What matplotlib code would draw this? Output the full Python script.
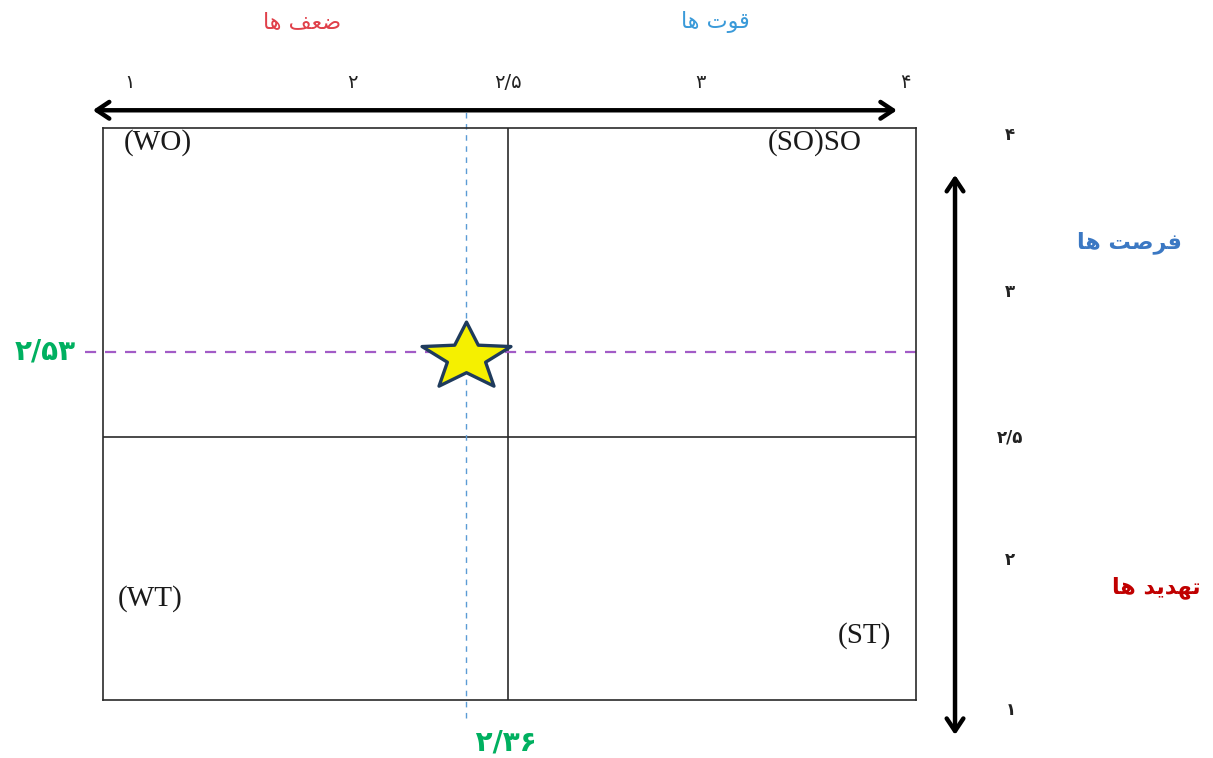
"""SWOT position matrix (internal / external factor evaluation)."""

import numpy as np
import matplotlib.pyplot as plt
from matplotlib.path import Path
from matplotlib.transforms import blended_transform_factory

# ---- data -------------------------------------------------------------
# internal factors (x): weakness <- -> strength ; external factors (y)
x_ticks = [1, 2, 2.5, 3, 4]
x_tick_labels = ["۱", "۲", "۲/۵", "۳", "۴"]
y_ticks = [1, 2, 2.5, 3, 4]
y_tick_labels = ["۱", "۲", "۲/۵", "۳", "۴"]
split_value = 2.5
ife_score = 2.36
efe_score = 2.53
ife_label = "۲/۳۶"
efe_label = "۲/۵۳"

# Persian labels written in visual order with Arabic presentation forms
# (matplotlib has no text shaping)
label_weak = "\uFE8E\uFEEB \uFED2\uFECC\uFEBF"            # ضعف ها
label_strong = "\uFE8E\uFEEB \uFE95\uFEEE\uFED7"          # قوت ها
label_opp = "\uFE8E\uFEEB \uFE96\uFEBB\uFEAE\uFED3"       # فرصت ها
label_threat = "\uFE8E\uFEEB \uFEAA\uFEF3\uFEAA\uFEEC\uFE97"  # تهدید ها
quadrants = ["(WO)", "(SO)SO", "(WT)", "(ST)"]

# ---- hand-drawn axis layout of the diagram (value -> canvas pixel) ----
W, H = 1213, 758
X_GUIDE_VAL = [1, 2, 2.36, 2.5, 3, 4]
X_GUIDE_PX = [130, 352, 466, 508, 700, 905]
Y_GUIDE_VAL = [1, 2, 2.5, 2.53, 3, 4]
Y_GUIDE_PX = [48, 198, 321, 406, 466, 623]   # measured from the bottom
BOX = (103, 58, 916, 630)                    # left, bottom, right, top


def piecewise(xp, fp):
    xp = np.asarray(xp, float)
    fp = np.asarray(fp, float)
    lo = (fp[1] - fp[0]) / (xp[1] - xp[0])
    hi = (fp[-1] - fp[-2]) / (xp[-1] - xp[-2])

    def f(v):
        v = np.asarray(v, float)
        out = np.interp(v, xp, fp)
        out = np.where(v < xp[0], fp[0] + (v - xp[0]) * lo, out)
        out = np.where(v > xp[-1], fp[-1] + (v - xp[-1]) * hi, out)
        return out
    return f


x_fwd, x_inv = piecewise(X_GUIDE_VAL, X_GUIDE_PX), piecewise(X_GUIDE_PX, X_GUIDE_VAL)
y_fwd, y_inv = piecewise(Y_GUIDE_VAL, Y_GUIDE_PX), piecewise(Y_GUIDE_PX, Y_GUIDE_VAL)


def star_marker(stretch=1.32, inner=0.43):
    verts = []
    for k in range(5):
        a = np.pi / 2 + k * 2 * np.pi / 5
        verts.append((stretch * np.cos(a), np.sin(a)))
        b = a + np.pi / 5
        verts.append((stretch * inner * np.cos(b), inner * np.sin(b)))
    verts.append(verts[0])
    codes = [Path.MOVETO] + [Path.LINETO] * 9 + [Path.CLOSEPOLY]
    return Path(verts, codes)


fig = plt.figure(figsize=(W / 100, H / 100), dpi=100)
left, bottom, right, top = BOX
ax = fig.add_axes([left / W, bottom / H, (right - left) / W, (top - bottom) / H])
ax.set_xscale("function", functions=(x_fwd, x_inv))
ax.set_yscale("function", functions=(y_fwd, y_inv))
ax.set_xlim(float(x_inv(left)), float(x_inv(right)))
ax.set_ylim(float(y_inv(bottom)), float(y_inv(top)))
ax.set_xticks([])
ax.set_yticks([])
for sp in ax.spines.values():
    sp.set_color("#2a2a2a")
    sp.set_linewidth(1.2)

# quadrant split lines
ax.axvline(split_value, color="#2a2a2a", lw=1.2)
ax.axhline(split_value, color="#2a2a2a", lw=1.2)

# score guide lines
ax.axvline(ife_score, ymin=-0.031, ymax=1.031, color="#5B9BD5", lw=1.0,
           dashes=(4, 4), clip_on=False)
ax.axhline(efe_score, xmin=-0.022, xmax=1.0, color="#A25BC6", lw=1.6,
           dashes=(5, 4), clip_on=False)

# position of the organisation
ax.plot([ife_score], [efe_score], marker=star_marker(), ms=64, color="#F5F000",
        markeredgecolor="#1F3B5C", markeredgewidth=2.4, zorder=5, clip_on=False,
        transform=ax.transData + plt.matplotlib.transforms.ScaledTranslation(
            0, -5 / 100, fig.dpi_scale_trans))

# axis arrows
ax.annotate("", xy=(-0.016, 1.031), xytext=(0.98, 1.031), xycoords="axes fraction",
            arrowprops=dict(arrowstyle="<->,head_length=0.45,head_width=0.3",
                            lw=3.2, color="black", mutation_scale=20))
ax.annotate("", xy=(1.048, 0.923), xytext=(1.048, -0.066), xycoords="axes fraction",
            arrowprops=dict(arrowstyle="<->,head_length=0.45,head_width=0.3",
                            lw=3.2, color="black", mutation_scale=20))

# tick labels
top_tr = blended_transform_factory(ax.transData, ax.transAxes)
for v, lab in zip(x_ticks, x_tick_labels):
    ax.text(v, 1.079, lab, transform=top_tr, ha="center", va="center",
            fontsize=14, family=["DejaVu Sans"], color="#222222", clip_on=False)
right_tr = blended_transform_factory(ax.transAxes, ax.transData)
for v, lab in zip(y_ticks, y_tick_labels):
    ax.text(1.116, v, lab, transform=right_tr, ha="center", va="center",
            fontsize=12, fontweight="bold", family=["DejaVu Sans"],
            color="#222222", clip_on=False)

# score values
ax.text(-0.071, efe_score, efe_label, transform=right_tr, ha="center", va="center",
        fontsize=20, fontweight="bold", color="#00B060", family=["DejaVu Sans"],
        clip_on=False)
ax.text(ife_score, -0.075, " " + ife_label, transform=top_tr, ha="left", va="center",
        fontsize=20, fontweight="bold", color="#00B060", family=["DejaVu Sans"],
        clip_on=False)

# factor headers
fig.text(302 / W, 1 - 22 / H, label_weak, ha="center", va="center", fontsize=16,
         color="#E0404A", family=["DejaVu Sans"])
fig.text(715 / W, 1 - 22 / H, label_strong, ha="center", va="center", fontsize=16,
         color="#3A9AD9", family=["DejaVu Sans"])
fig.text(1129 / W, 1 - 243 / H, label_opp, ha="center", va="center", fontsize=16,
         fontweight="bold", color="#3B78C3", family=["DejaVu Sans"])
fig.text(1156 / W, 1 - 588 / H, label_threat, ha="center", va="center", fontsize=16,
         fontweight="bold", color="#C00000", family=["DejaVu Sans"])

# quadrant names
serif = dict(family=["Liberation Serif", "DejaVu Serif"], fontsize=21, color="#1a1a1a",
             va="center", ha="center", transform=ax.transAxes)
ax.text(0.068, 0.974, quadrants[0], **serif)
ax.text(0.876, 0.974, quadrants[1], **serif)
ax.text(0.058, 0.178, quadrants[2], **serif)
ax.text(0.937, 0.112, quadrants[3], **serif)

fig.savefig("out.png", dpi=100)
